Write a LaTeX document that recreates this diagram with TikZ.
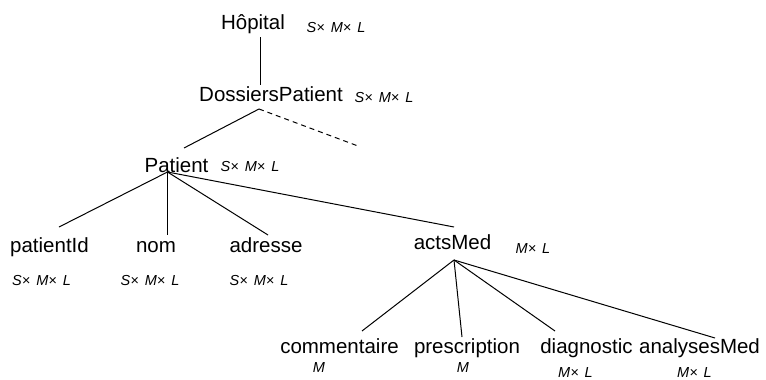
\documentclass[tikz,border=0pt]{standalone}
\usepackage{fontspec}
\setmainfont{Liberation Sans}
\begin{document}
\begin{tikzpicture}[x=1pt,y=-1pt,
  elem/.style={inner sep=0pt,anchor=base,font=\fontsize{20.5}{22}\selectfont},
  card/.style={inner sep=0pt,anchor=base,font=\fontsize{14.5}{16}\selectfont\itshape},
  edge/.style={line width=1pt,black},
  pending/.style={edge,dash pattern=on 5pt off 4pt}]
\useasboundingbox (0,0) rectangle (766,380);

% element names
\node[elem] (hop) at (253,29) {Hôpital};
\node[elem] (dos) at (271,101) {DossiersPatient};
\node[elem] (pat) at (176.5,172) {Patient};
\node[elem] (pid) at (49.5,252) {patientId};
\node[elem] (nom) at (156,252) {nom};
\node[elem] (adr) at (266,252) {adresse};
\node[elem] (act) at (452.5,249) {actsMed};
\node[elem] (com) at (339.5,353) {commentaire};
\node[elem] (pre) at (467,353) {prescription};
\node[elem] (dia) at (586.5,353) {diagnostic};
\node[elem] (ana) at (699.5,353) {analysesMed};

% cardinalities
\node[card] (hopc) at (336,32) {S×\hspace{6pt}M×\hspace{6pt}L};
\node[card] (dosc) at (384,102) {S×\hspace{6pt}M×\hspace{6pt}L};
\node[card] (patc) at (250,171) {S×\hspace{6pt}M×\hspace{6pt}L};
\node[card] (pidc) at (41.5,285) {S×\hspace{6pt}M×\hspace{6pt}L};
\node[card] (nomc) at (150,285) {S×\hspace{6pt}M×\hspace{6pt}L};
\node[card] (adrc) at (259,285) {S×\hspace{6pt}M×\hspace{6pt}L};
\node[card] (actc) at (533,253) {M×\hspace{6pt}L};
\node[card] (comc) at (319,372) {M};
\node[card] (prec) at (463,372) {M};
\node[card] (diac) at (575.5,377) {M×\hspace{6pt}L};
\node[card] (anac) at (694.5,377) {M×\hspace{6pt}L};

% branch points
\coordinate (hopB) at (260.5,37);
\coordinate (dosT) at (260.5,85);
\coordinate (dosB) at (259,109);
\coordinate (patT) at (184,148);
\coordinate (more) at (358,146);
\coordinate (patJ) at (167.5,172);
\coordinate (pidT) at (59,227);
\coordinate (nomT) at (167.5,235);
\coordinate (adrT) at (268,235);
\coordinate (actT) at (454,227);
\coordinate (actJ) at (454,260);
\coordinate (comT) at (362,331);
\coordinate (preT) at (462,337);
\coordinate (diaT) at (555,331);
\coordinate (anaT) at (715,338);

% tree edges
\draw[edge] (hopB) -- (dosT);
\draw[edge] (dosB) -- (patT);
\draw[pending] (dosB) -- (more);
\draw[edge] (patJ) -- (pidT);
\draw[edge] (patJ) -- (nomT);
\draw[edge] (patJ) -- (adrT);
\draw[edge] (patJ) -- (actT);
\draw[edge] (actJ) -- (comT);
\draw[edge] (actJ) -- (preT);
\draw[edge] (actJ) -- (diaT);
\draw[edge] (actJ) -- (anaT);
\end{tikzpicture}
\end{document}
